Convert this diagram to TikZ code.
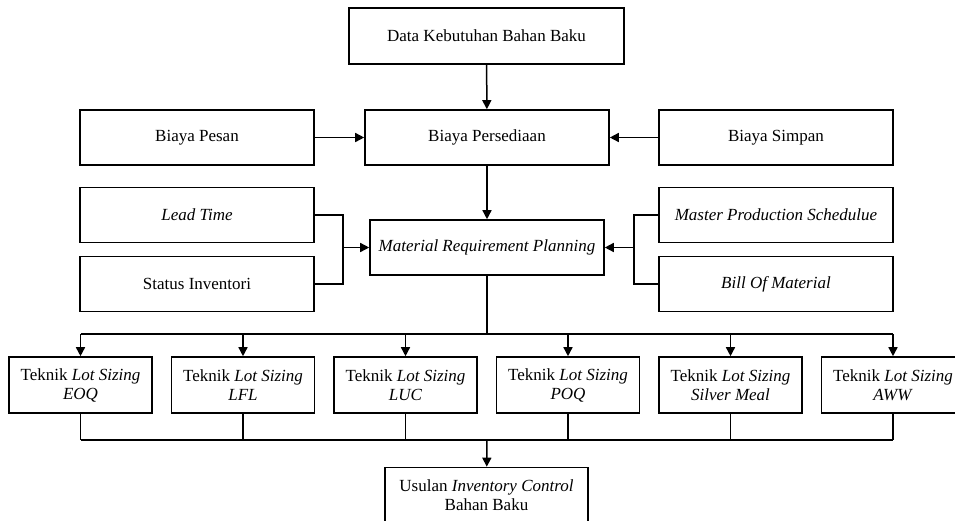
\documentclass[tikz,border=0pt]{standalone}
\usepackage{fontspec}
\setmainfont{Liberation Serif}
\usetikzlibrary{arrows.meta}

\begin{document}
\begin{tikzpicture}[x=1pt,y=-1pt,
    box/.style={draw,line width=1.6pt,fill=white,minimum width=234pt,minimum height=55pt,
      inner sep=2pt,align=center,font=\fontsize{17}{19}\selectfont},
    lotbox/.style={box,minimum width=143pt,minimum height=56pt},
    link/.style={line width=1.5pt},
    arr/.style={link,-{Triangle[length=9pt,width=9pt]}}]
    \path[use as bounding box] (0,0) rectangle (955,520);
    % Costs.
    \node[box,minimum width=275pt,minimum height=56pt] (data) at (486.5,36) {Data Kebutuhan Bahan Baku};
    \node[box] (pesan) at (197,137.5) {Biaya Pesan};
    \node[box,minimum width=244pt] (sedia) at (487,137.5) {Biaya Persediaan};
    \node[box] (simpan) at (776,137.5) {Biaya Simpan};
    % MRP inputs.
    \node[box] (lead) at (197,215) {\textit{Lead Time}};
    \node[box] (status) at (197,284) {Status Inventori};
    \node[box] (mrp) at (487,247.5) {\textit{Material Requirement Planning}};
    \node[box] (mps) at (776,215) {\textit{Master Production Schedulue}};
    \node[box] (bom) at (776,284) {\textit{Bill Of Material}};
    \coordinate (jl) at (343,247.5);
    \coordinate (jr) at (634,247.5);
    \draw[arr] (data) -- (sedia);
    \draw[arr] (pesan) -- (sedia);
    \draw[arr] (simpan) -- (sedia);
    \draw[arr] (sedia) -- (mrp);
    \draw[link] (lead.east) -| (jl) |- (status.east);
    \draw[arr] (jl) -- (mrp);
    \draw[link] (mps.west) -| (jr) |- (bom.west);
    \draw[arr] (jr) -- (mrp);
    % Lot sizing.
    \coordinate (split) at (487,334);
    \coordinate (merge) at (487,440);
    \foreach \n/\x/\t in {eoq/80.5/EOQ, lfl/243/LFL, luc/405.5/LUC, poq/568/POQ, sm/730.5/Silver Meal, aww/893/AWW}
      \node[lotbox] (\n) at (\x,385) {Teknik \textit{Lot Sizing}\\\textit{\t}};
    \draw[link] (mrp) -- (split);
    \draw[link] (eoq |- split) -- (aww |- split);
    \draw[link] (eoq |- merge) -- (aww |- merge);
    \foreach \n in {eoq,lfl,luc,poq,sm,aww} {
      \draw[arr] (\n |- split) -- (\n);
      \draw[link] (\n) -- (\n |- merge);
    }
    % Result.
    \node[box,minimum width=203pt,minimum height=56pt] (usulan) at (486.5,495.5) {Usulan \textit{Inventory Control}\\Bahan Baku};
    \draw[arr] (merge) -- (usulan);
\end{tikzpicture}
\end{document}
